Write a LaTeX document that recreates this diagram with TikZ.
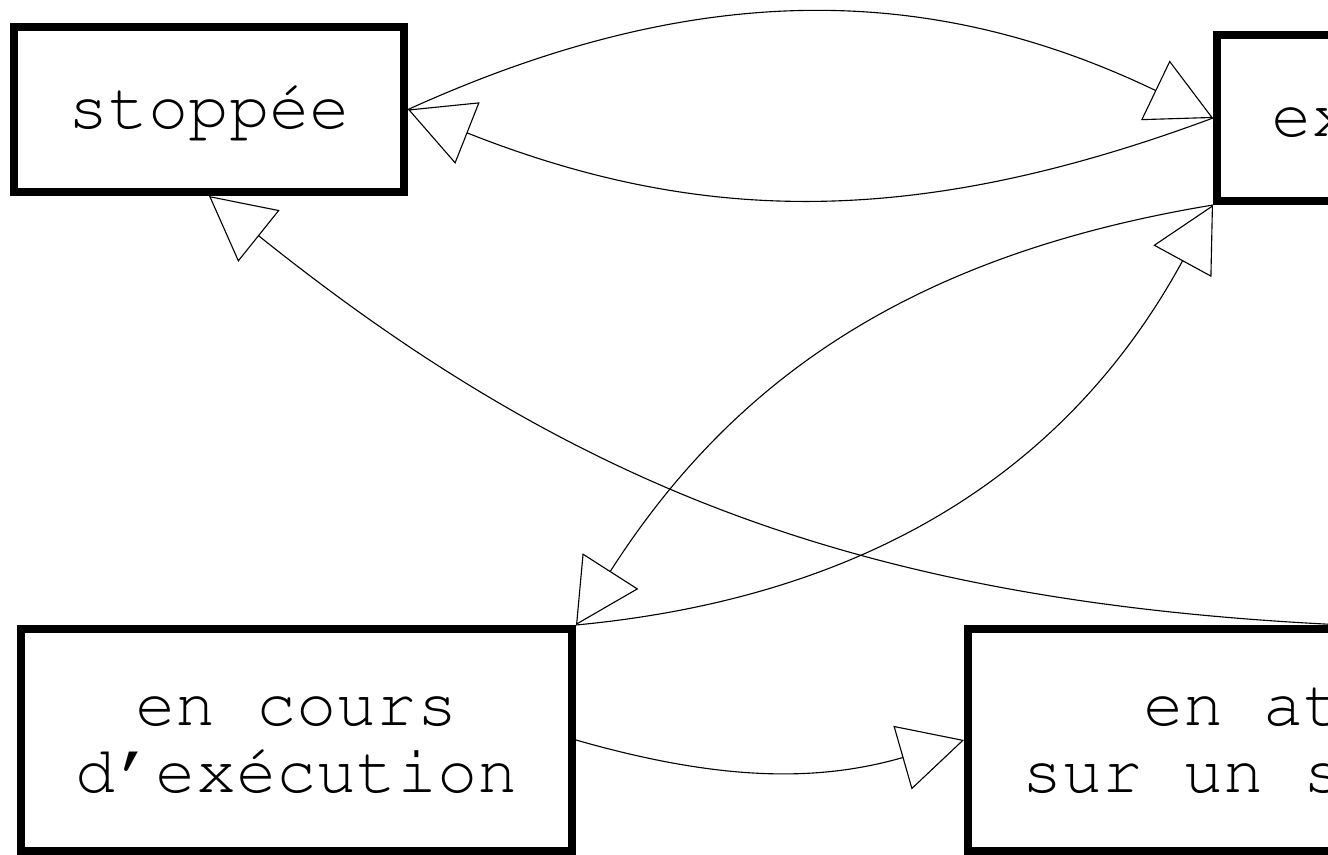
\documentclass[tikz,border=0pt]{standalone}
\usepackage[T1]{fontenc}
\usepackage{courier}
\usetikzlibrary{arrows.meta}
% struts that fix the vertical placement of two-line labels
\newcommand\firstlinestrut{\rule{0pt}{12.25pt}}
\newcommand\lastlinestrut{\rule[-3pt]{0pt}{0pt}}
\begin{document}
\begin{tikzpicture}[x=0.25pt,y=-0.25pt,
  state/.style={draw, line width=2pt, inner sep=0pt, align=center,
    font=\ttfamily\fontsize{16.75}{16.75}\selectfont},
  oneline/.style={state, text height=9.5pt, text depth=0pt},
  twoline/.style={state},
  link/.style={line width=0.28pt, -{Triangle[open,length=16pt,width=16.5pt]}}]
\useasboundingbox (0,0) rectangle (1328,855);
\clip (0,0) rectangle (1328,855);

% process states
\node[oneline, minimum width=97.5pt, minimum height=41.25pt] (stop) at (209,109.5) {stopp\'ee};
\node[oneline, minimum width=127.75pt, minimum height=41.5pt] (ready) at (1472.5,118) {ex\'ecutable};
\node[twoline, minimum width=137.75pt, minimum height=55.5pt] (run) at (296.5,740)
  {\firstlinestrut en cours\\d'ex\'ecution\lastlinestrut};
\node[twoline, minimum width=188pt, minimum height=55.5pt] (wait) at (1344,740)
  {\firstlinestrut en attente\\sur un s\'emaphore\lastlinestrut};

% transitions
\draw[link] (stop.east) to[bend left=25] (ready.west);
\draw[link] (ready.west) to[bend left=21] (stop.east);
\draw[link] (run.north east) to[bend right=28] (ready.south west);
\draw[link] (ready.south west) to[bend right=24] (run.north east);
\draw[link] (run.east) to[bend right=16] (wait.west);
\draw[link] (wait.north) to[bend left=18] (stop.south);
\end{tikzpicture}
\end{document}
